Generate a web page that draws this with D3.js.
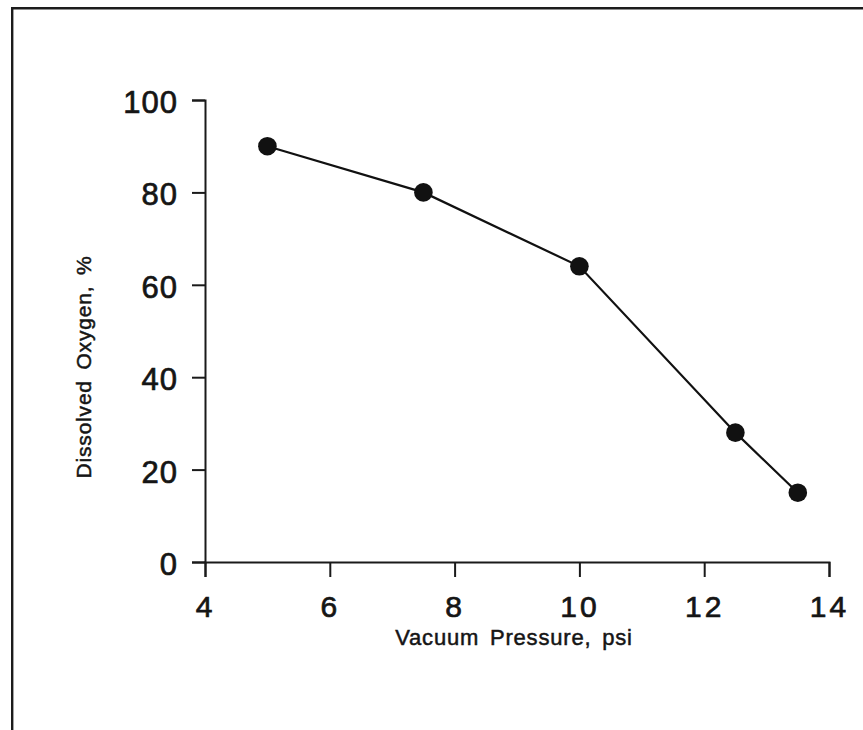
<!DOCTYPE html>
<meta charset="utf-8">
<script src="https://d3js.org/d3.v7.min.js"></script>
<style>
  body { margin: 0; background: #fff; }
  text { font-family: "Liberation Sans", Arial, Helvetica, sans-serif; fill: #151515; }
</style>
<div id="chart"></div>
<script>

// data
var pressure = [5, 7.5, 10, 12.5, 13.5];
var oxygen = [90, 80, 64, 28, 15];
var xTicks = [4, 6, 8, 10, 12, 14];
var yTicks = [0, 20, 40, 60, 80, 100];

var W = 863, H = 730;
var margin = {top: 100, right: 34, bottom: 168, left: 205},
    width = W - margin.left - margin.right,
    height = H - margin.top - margin.bottom;

var svg = d3.select("#chart")
  .append("svg")
    .attr("width", W)
    .attr("height", H);

// frame (top and left edges only, the rest is cropped)
svg.append("path")
  .attr("d", "M12.2," + H + " V8.3 H" + W)
  .attr("fill", "none")
  .attr("stroke", "#1c1c1c")
  .attr("stroke-width", 2.4);

var g = svg.append("g")
  .attr("transform", "translate(" + margin.left + "," + margin.top + ")");

var x = d3.scaleLinear().domain([4, 14]).range([0, width]);
var y = d3.scaleLinear().domain([0, 100]).range([height, 0]);

// Y axis
var yAxis = g.append("g")
  .call(d3.axisLeft(y).tickValues(yTicks).tickSize(13).tickPadding(14));
yAxis.selectAll("text")
  .attr("dy", "0.4em")
  .style("font-size", "31px")
  .style("letter-spacing", "1px");

// X axis
var xAxis = g.append("g")
  .attr("transform", "translate(0," + height + ")")
  .call(d3.axisBottom(x).tickValues(xTicks).tickSize(15));
xAxis.selectAll("text")
  .attr("y", 55)
  .attr("dy", 0)
  .style("font-size", "30px")
  .style("letter-spacing", "3px");

// scanned type looks heavier than a plain regular face
g.selectAll(".tick text")
  .attr("stroke", "#151515")
  .attr("stroke-width", 0.7);

g.selectAll(".domain, .tick line")
  .attr("stroke", "#1a1a1a")
  .attr("stroke-width", 2);

// line + points
var pts = pressure.map(function(p, i) { return [p, oxygen[i]]; });

g.append("path")
  .datum(pts)
  .attr("fill", "none")
  .attr("stroke", "#111")
  .attr("stroke-width", 2.2)
  .attr("d", d3.line()
    .x(function(d) { return x(d[0]); })
    .y(function(d) { return y(d[1]); }));

g.selectAll("circle")
  .data(pts)
  .enter()
  .append("circle")
    .attr("cx", function(d) { return x(d[0]); })
    .attr("cy", function(d) { return y(d[1]); })
    .attr("r", 9.3)
    .attr("fill", "#111");

// axis titles
svg.append("text")
  .attr("x", 514)
  .attr("y", 645)
  .attr("stroke", "#151515")
  .attr("stroke-width", 0.5)
  .style("text-anchor", "middle")
  .style("font-size", "22px")
  .style("letter-spacing", "0.8px")
  .style("word-spacing", "4px")
  .text("Vacuum Pressure, psi");

svg.append("text")
  .attr("transform", "translate(91,367) rotate(-90)")
  .attr("stroke", "#151515")
  .attr("stroke-width", 0.5)
  .style("text-anchor", "middle")
  .style("font-size", "21px")
  .style("letter-spacing", "0.8px")
  .style("word-spacing", "4px")
  .text("Dissolved Oxygen, %");

</script>
